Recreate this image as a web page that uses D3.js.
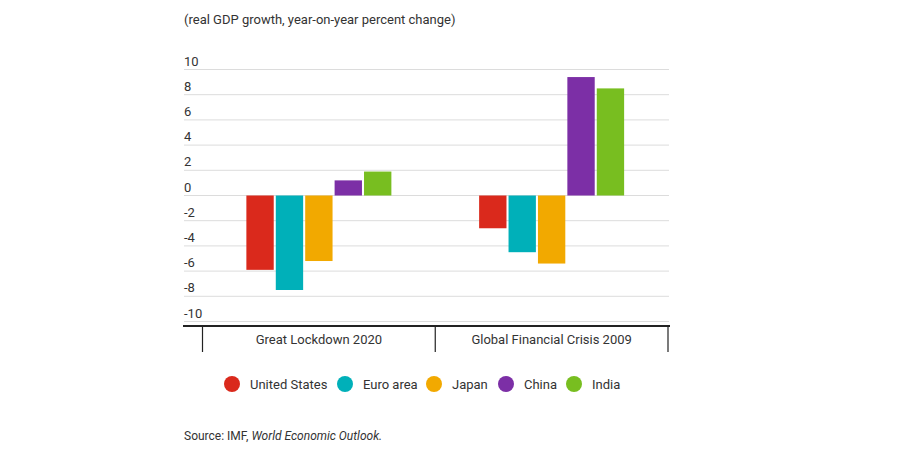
<!DOCTYPE html>
<html>
<head>
<meta charset="utf-8">
<script src="https://cdn.jsdelivr.net/npm/d3@7"></script>
<style>
  html, body { margin: 0; padding: 0; background: #fff; }
  svg { display: block; font-family: Roboto, "Noto Sans", sans-serif; }
</style>
</head>
<body>
<svg id="chart" width="900" height="450"></svg>
<script>
const categories = ["Great Lockdown 2020", "Global Financial Crisis 2009"];
const seriesNames = ["United States", "Euro area", "Japan", "China", "India"];
const lockdown2020 = [-5.9, -7.5, -5.2, 1.2, 1.9];
const gfc2009 = [-2.6, -4.5, -5.4, 9.4, 8.5];
const yTicks = [10, 8, 6, 4, 2, 0, -2, -4, -6, -8, -10];
const colors = ["#da291c", "#00b0b9", "#f2a900", "#7c2fa6", "#78be20"];

const values = [lockdown2020, gfc2009];

const svg = d3.select("#chart");
const textColor = "#333";

const y = d3.scaleLinear().domain([-10, 10]).range([321.5, 69.5]);
const x0 = d3.scaleBand().domain(categories).range([202.5, 668]);
const x1 = d3.scaleBand().domain(seriesNames).range([0, 145]).paddingInner(0.07);

// title
svg.append("text").attr("x", 184).attr("y", 24)
  .attr("font-size", 13).attr("fill", textColor)
  .text("(real GDP growth, year-on-year percent change)");

// gridlines + labels
const grid = svg.append("g");
yTicks.forEach(t => {
  grid.append("line").attr("x1", 184).attr("x2", 669)
    .attr("y1", y(t)).attr("y2", y(t))
    .attr("stroke", "#dcdcdc").attr("stroke-width", 1);
  grid.append("text").attr("x", 184).attr("y", y(t) - 4)
    .attr("font-size", 13).attr("fill", textColor).text(t);
});

// bars
categories.forEach((c, ci) => {
  const g = svg.append("g")
    .attr("transform", `translate(${x0(c) + (x0.bandwidth() - 145) / 2},0)`);
  values[ci].forEach((v, si) => {
    g.append("rect")
      .attr("x", x1(seriesNames[si]))
      .attr("width", x1.bandwidth())
      .attr("y", y(Math.max(0, v)))
      .attr("height", Math.abs(y(v) - y(0)))
      .attr("fill", colors[si]);
  });
});

// category axis
svg.append("line").attr("x1", 183).attr("x2", 670)
  .attr("y1", 326).attr("y2", 326).attr("stroke", "#222").attr("stroke-width", 2);
const bounds = [x0.range()[0], x0(categories[1]), x0.range()[1]];
bounds.forEach(b => {
  svg.append("line").attr("x1", b).attr("x2", b)
    .attr("y1", 326).attr("y2", 352).attr("stroke", "#222").attr("stroke-width", 1.2);
});
categories.forEach(c => {
  svg.append("text").attr("x", x0(c) + x0.bandwidth() / 2).attr("y", 344)
    .attr("text-anchor", "middle").attr("font-size", 13).attr("fill", textColor).text(c);
});

// legend
const legendX = [232, 345, 434, 506, 574];
seriesNames.forEach((s, i) => {
  svg.append("circle").attr("cx", legendX[i]).attr("cy", 384).attr("r", 8).attr("fill", colors[i]);
  svg.append("text").attr("x", legendX[i] + 18).attr("y", 388.5)
    .attr("font-size", 13).attr("fill", textColor).text(s);
});

// source
const src = svg.append("text").attr("x", 184).attr("y", 440)
  .attr("font-size", 12).attr("fill", textColor);
src.append("tspan").text("Source: IMF, ");
src.append("tspan").attr("font-style", "italic").text("World Economic Outlook.");
</script>
</body>
</html>
